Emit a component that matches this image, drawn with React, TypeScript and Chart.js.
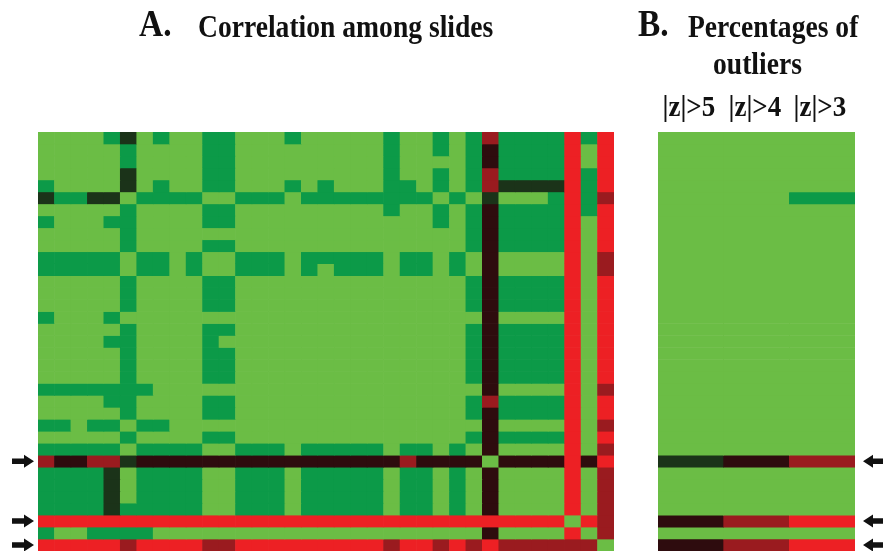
import React, { useEffect, useRef } from "react";
import { Chart, registerables } from "chart.js";

Chart.register(...registerables);

// 0 = light green (high correlation) ... 5 = red (low correlation)
const levelColors = ["#6bbd45", "#0c9a48", "#1b3319", "#2e0c0e", "#9a1b1f", "#ed2024"];

const slideLabels = [
  "1","2","3","4","5","6","7","8","9","10","11","12","13","14","15","16","17","18",
  "19","20","21","22","23","24","25","26","27","28","29","30","31","32","33","34","35",
];

// correlation level matrix among slides (rows top->bottom, columns left->right)
const corrRows = [
  "00001 20100 11000 10000 01001 01411 11515",
  "00000 10000 11000 00000 01001 01311 11505",
  "00000 10000 11000 00000 01000 01311 11505",
  "00000 20000 11000 00000 01001 01411 11515",
  "10000 20100 11000 10100 01101 01422 22515",
  "21122 01111 00111 01111 11110 10200 01514",
  "00000 10000 11000 00000 01001 01311 11515",
  "10001 10000 11000 00000 00001 01311 11505",
  "00000 10000 00000 00000 00000 01311 11505",
  "00000 10000 11000 00000 00000 01311 11505",
  "11111 01101 00111 01111 10110 10300 00504",
  "11111 01101 00111 01011 10110 10300 00504",
  "00000 10000 11000 00000 00000 01311 11505",
  "00000 10000 11000 00000 00000 01311 11505",
  "00000 10000 11000 00000 00000 01311 11505",
  "10001 00000 00000 00000 00000 00300 00505",
  "00000 10000 11000 00000 00000 01311 11505",
  "00001 10000 10000 00000 00000 01311 11505",
  "00000 10000 11000 00000 00000 01311 11505",
  "00000 10000 11000 00000 00000 01311 11505",
  "00000 10000 11000 00000 00000 01311 11505",
  "11111 11000 00000 00000 00000 00300 00504",
  "00001 10000 11000 00000 00000 01411 11505",
  "00000 10000 11000 00000 00000 01311 11505",
  "11011 01100 00000 00000 00000 00300 00504",
  "00000 10000 11000 00000 00000 01311 11505",
  "11111 01111 00111 01111 10110 10300 00504",
  "43344 23333 33333 33333 33433 33033 33535",
  "11112 01111 00111 01111 10110 10300 00504",
  "11112 01111 00111 01111 10110 10300 00504",
  "11112 01111 00111 01111 10110 10300 00504",
  "11112 11111 00111 01111 10110 10300 00504",
  "55555 55555 55555 55555 55555 55555 55054",
  "10011 11000 00000 00000 00000 00300 00504",
  "55555 45555 44555 55555 54554 54544 44440",
];

const outlierLabels = ["|z|>5", "|z|>4", "|z|>3"];
// percentage-of-outlier levels per slide for each threshold
const outlierRows = [
  "000","000","000","000","000","001","000","000","000","000",
  "000","000","000","000","000","000","000","000","000","000",
  "000","000","000","000","000","000","000","234","000","000",
  "000","000","345","000","345",
];

const arrowRows = [27, 32, 34];

const parseRow = (s: string) => s.replace(/\s+/g, "").split("").map((c) => Number(c));

function makeArrowPlugin(tipX: number, tailX: number) {
  return {
    id: "rowArrows",
    afterDraw(chart: any) {
      const ctx = chart.ctx as CanvasRenderingContext2D;
      const y = chart.scales.y;
      const dir = tipX > tailX ? 1 : -1;
      const headLen = 10;
      const headH = 6.5;
      const shaftH = 2.8;
      ctx.save();
      ctx.fillStyle = "#111111";
      arrowRows.forEach((r) => {
        const cy = y.getPixelForValue(r + 0.5);
        const baseX = tipX - dir * headLen;
        ctx.beginPath();
        ctx.moveTo(tailX, cy - shaftH);
        ctx.lineTo(baseX, cy - shaftH);
        ctx.lineTo(baseX, cy - headH);
        ctx.lineTo(tipX, cy);
        ctx.lineTo(baseX, cy + headH);
        ctx.lineTo(baseX, cy + shaftH);
        ctx.lineTo(tailX, cy + shaftH);
        ctx.closePath();
        ctx.fill();
      });
      ctx.restore();
    },
  };
}

function buildHeatmap(
  canvas: HTMLCanvasElement,
  labels: string[],
  rows: string[],
  padding: { left: number; right: number; top: number; bottom: number },
  plugin: any
) {
  const matrix = rows.map(parseRow);
  const datasets = matrix.map((levels, r) => ({
    label: `row ${r + 1}`,
    data: levels.map(() => [r, r + 1] as [number, number]),
    backgroundColor: levels.map((v) => levelColors[v]),
    borderWidth: 0,
    barPercentage: 1,
    categoryPercentage: 1,
    grouped: false,
  }));
  return new Chart(canvas, {
    type: "bar",
    data: { labels, datasets: datasets as any },
    options: {
      responsive: false,
      animation: false,
      layout: { padding },
      plugins: { legend: { display: false }, tooltip: { enabled: false }, title: { display: false } },
      scales: {
        x: { type: "category", display: false, offset: true, grid: { display: false } },
        y: { type: "linear", display: false, min: 0, max: rows.length, reverse: true },
      },
    },
    plugins: [plugin],
  });
}

const titleBase: React.CSSProperties = {
  position: "absolute",
  fontFamily: "'Liberation Serif', 'Times New Roman', serif",
  fontWeight: "bold",
  color: "#111",
  lineHeight: 1,
  whiteSpace: "nowrap",
  transformOrigin: "left top",
};

const bLeft = 658;
const bWidth = 197;

export default function App() {
  const refA = useRef<HTMLCanvasElement>(null);
  const refB = useRef<HTMLCanvasElement>(null);

  useEffect(() => {
    const a = buildHeatmap(
      refA.current!,
      slideLabels,
      corrRows,
      { left: 38, right: 26, top: 132, bottom: 0 },
      makeArrowPlugin(34, 12)
    );
    const b = buildHeatmap(
      refB.current!,
      outlierLabels,
      outlierRows,
      { left: 38, right: 28, top: 132, bottom: 0 },
      makeArrowPlugin(243, 263)
    );
    return () => {
      a.destroy();
      b.destroy();
    };
  }, []);

  const colW = bWidth / outlierLabels.length;

  return (
    <div style={{ position: "absolute", left: 0, top: 0, width: 883, height: 551, background: "#fff", overflow: "hidden" }}>
      <canvas ref={refA} width={640} height={551} style={{ position: "absolute", left: 0, top: 0, width: 640, height: 551 }} />
      <canvas ref={refB} width={263} height={551} style={{ position: "absolute", left: 620, top: 0, width: 263, height: 551 }} />
      <div style={{ ...titleBase, left: 139, top: 4, fontSize: 38, transform: "scaleX(0.88)" }}>A.</div>
      <div style={{ ...titleBase, left: 198, top: 10.5, fontSize: 31, transform: "scaleX(0.89)" }}>Correlation among slides</div>
      <div style={{ ...titleBase, left: 638, top: 4, fontSize: 38, transform: "scaleX(0.88)" }}>B.</div>
      <div style={{ ...titleBase, left: 688, top: 10.5, fontSize: 31, transform: "scaleX(0.89)" }}>Percentages of</div>
      <div style={{ ...titleBase, left: 713, top: 47.5, fontSize: 31, transform: "scaleX(0.89)" }}>outliers</div>
      {outlierLabels.map((t, k) => (
        <div
          key={t}
          style={{
            ...titleBase,
            left: bLeft + k * colW - 2,
            width: colW,
            top: 91,
            fontSize: 30,
            textAlign: "center",
            transform: "scaleX(0.9)",
            transformOrigin: "center top",
          }}
        >
          {t}
        </div>
      ))}
    </div>
  );
}
